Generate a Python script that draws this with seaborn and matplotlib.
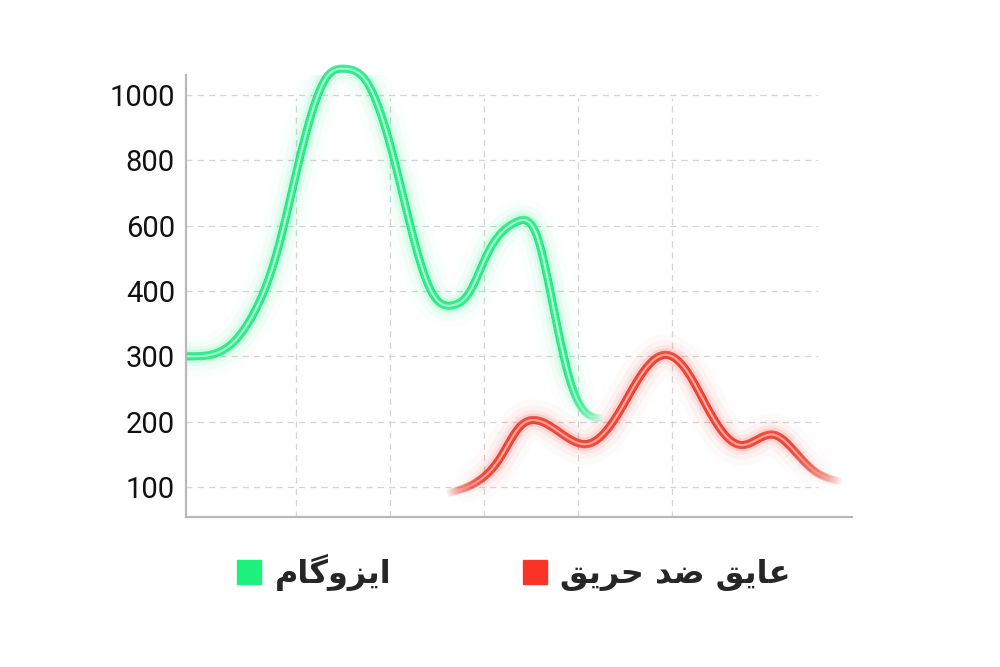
import numpy as np
import matplotlib
matplotlib.use("Agg")
import matplotlib.pyplot as plt
from matplotlib.collections import LineCollection
from matplotlib.lines import Line2D
from matplotlib.colors import to_rgba
import seaborn as sns

# y axis: evenly spaced ticks carrying uneven values
Y_TICKS = [100, 200, 300, 400, 600, 800, 1000]
X_TICKS = [1, 2, 3, 4, 5]

# (x in grid units, y in axis values)
green_x = [-0.16, 0.30, 0.58, 0.79, 1.04, 1.33, 1.51, 1.75, 2.04, 2.32,
           2.46, 2.67, 2.85, 3.03, 3.35, 3.56, 3.74, 3.93, 4.27]
green_y = [300, 317, 374, 510, 806, 1056, 1080, 1041, 806, 490,
           394, 378, 399, 510, 612, 571, 374, 256, 205]

red_x = [2.60, 2.96, 3.17, 3.38, 3.56, 3.83, 4.11, 4.41, 4.66, 4.91, 5.15,
         5.37, 5.58, 5.74, 6.08, 6.29, 6.50, 6.81]
red_y = [90, 111, 144, 192, 202, 181, 166, 208, 269, 302, 279,
         223, 177, 164, 180, 157, 126, 108]

series_names = ["ایزوگام", "عایق ضد حریق"]

IDX = np.arange(len(Y_TICKS), dtype=float)


def fwd(v):
    v = np.asarray(v, dtype=float)
    out = np.interp(v, Y_TICKS, IDX)
    out = np.where(v < Y_TICKS[0], (v - Y_TICKS[0]) / 100.0, out)
    out = np.where(v > Y_TICKS[-1], IDX[-1] + (v - Y_TICKS[-1]) / 200.0, out)
    return out


def inv(i):
    i = np.asarray(i, dtype=float)
    out = np.interp(i, IDX, Y_TICKS)
    out = np.where(i < 0, Y_TICKS[0] + i * 100.0, out)
    out = np.where(i > IDX[-1], Y_TICKS[-1] + (i - IDX[-1]) * 200.0, out)
    return out


def spline(x, y, xs, d0=None, dn=None):
    """cubic spline, natural ends unless an end slope is given"""
    x = np.asarray(x, float)
    y = np.asarray(y, float)
    n = len(x)
    h = np.diff(x)
    A = np.zeros((n, n))
    b = np.zeros(n)
    for i in range(1, n - 1):
        A[i, i - 1], A[i, i], A[i, i + 1] = h[i - 1], 2 * (h[i - 1] + h[i]), h[i]
        b[i] = 6 * ((y[i + 1] - y[i]) / h[i] - (y[i] - y[i - 1]) / h[i - 1])
    if d0 is None:
        A[0, 0] = 1
    else:
        A[0, 0], A[0, 1] = 2 * h[0], h[0]
        b[0] = 6 * ((y[1] - y[0]) / h[0] - d0)
    if dn is None:
        A[-1, -1] = 1
    else:
        A[-1, -2], A[-1, -1] = h[-1], 2 * h[-1]
        b[-1] = 6 * (dn - (y[-1] - y[-2]) / h[-1])
    M = np.linalg.solve(A, b)
    k = np.clip(np.searchsorted(x, xs) - 1, 0, n - 2)
    hk = h[k]
    a, c = x[k + 1] - xs, xs - x[k]
    return (M[k] * a**3 / (6 * hk) + M[k + 1] * c**3 / (6 * hk)
            + (y[k] / hk - M[k] * hk / 6) * a + (y[k + 1] / hk - M[k + 1] * hk / 6) * c)


# minimal Persian shaping (matplotlib has no bidi / joining)
FORMS = {
    'ا': ('\uFE8D', '\uFE8E', None, None),
    'ی': ('\uFBFC', '\uFBFD', '\uFBFE', '\uFBFF'),
    'ز': ('\uFEAF', '\uFEB0', None, None),
    'و': ('\uFEED', '\uFEEE', None, None),
    'گ': ('\uFB92', '\uFB93', '\uFB94', '\uFB95'),
    'م': ('\uFEE1', '\uFEE2', '\uFEE3', '\uFEE4'),
    'ع': ('\uFEC9', '\uFECA', '\uFECB', '\uFECC'),
    'ق': ('\uFED5', '\uFED6', '\uFED7', '\uFED8'),
    'ض': ('\uFEBD', '\uFEBE', '\uFEBF', '\uFEC0'),
    'د': ('\uFEA9', '\uFEAA', None, None),
    'ح': ('\uFEA1', '\uFEA2', '\uFEA3', '\uFEA4'),
    'ر': ('\uFEAD', '\uFEAE', None, None),
}


def shape(text):
    out = []
    for i, ch in enumerate(text):
        if ch not in FORMS:
            out.append(ch)
            continue
        prev = text[i - 1] if i > 0 else ''
        nxt = text[i + 1] if i + 1 < len(text) else ''
        jp = prev in FORMS and FORMS[prev][2] is not None
        jn = FORMS[ch][2] is not None and nxt in FORMS
        iso, fin, ini, med = FORMS[ch]
        out.append(med if (jp and jn) else fin if jp else ini if jn else iso)
    return ''.join(reversed(out))


def neon(ax, xk, yk, colors, fade_in, fade_out, d0=None):
    xs = np.linspace(xk[0], xk[-1], 800)
    ys = inv(spline(xk, fwd(yk), xs, d0=d0))
    edge, mid, core = colors
    a = np.ones(len(xs) - 1)
    xm = (xs[:-1] + xs[1:]) / 2
    if fade_in:
        a = np.minimum(a, (xm - xs[0]) / fade_in)
    if fade_out:
        a = np.minimum(a, (xs[-1] - xm) / fade_out)
    a = np.clip(a, 0, 1)

    # soft glow, drawn in runs of equal fade level
    lvl = np.round(a * 10) / 10
    breaks = np.flatnonzero(np.diff(lvl)) + 1
    starts = np.concatenate([[0], breaks])
    ends = np.concatenate([breaks, [len(lvl)]])
    for s, e in zip(starts, ends):
        if lvl[s] <= 0:
            continue
        for lw, al in [(30, 0.025), (21, 0.04), (14, 0.07), (9.5, 0.12)]:
            sns.lineplot(x=xs[s:e + 1], y=ys[s:e + 1], ax=ax, color=mid, lw=lw,
                         alpha=al * lvl[s] ** 2, sort=False, estimator=None,
                         solid_capstyle='butt', zorder=2)

    pts = np.column_stack([xs, ys]).reshape(-1, 1, 2)
    segs = np.concatenate([pts[:-1], pts[1:]], axis=1)
    for c, lw in [(edge, 5.8), (mid, 4.4), (core, 1.5)]:
        rgba = np.tile(to_rgba(c), (len(a), 1))
        rgba[:, 3] = a
        lc = LineCollection(segs, colors=rgba, linewidths=lw, capstyle='butt',
                            joinstyle='round', zorder=3)
        lc.set_clip_on(False)
        ax.add_collection(lc)


sns.set_theme(style="white")
plt.rcParams['font.family'] = ['Roboto', 'DejaVu Sans']

fig = plt.figure(figsize=(10, 6.67), dpi=100)
ax = fig.add_axes([0.186, 0.2249, 0.666, 0.6627])
ax.set_yscale('function', functions=(fwd, inv))
ax.set_xlim(-0.17, 6.915)
ax.set_ylim(54, 1061)

ax.hlines(Y_TICKS, -0.17, 6.55, colors='#d4d4d4', linestyles=(0, (5, 4)), lw=0.9, zorder=0)
ax.vlines(X_TICKS, 54, 990, colors='#d4d4d4', linestyles=(0, (5, 4)), lw=0.9, zorder=0)

GREEN = ('#12df77', '#2cf08a', '#c6ffe0')
RED = ('#d8261a', '#fb4334', '#ffc2b8')
neon(ax, green_x, green_y, GREEN, 0, 0.4, d0=0.0)
neon(ax, red_x, red_y, RED, 0.45, 0.6)

ax.set_yticks(Y_TICKS, labels=[str(t) for t in Y_TICKS])
ax.set_xticks([])
ax.tick_params(axis='y', length=0, pad=8, labelsize=21, labelcolor='#111111')
for s in ['top', 'right']:
    ax.spines[s].set_visible(False)
for s in ['left', 'bottom']:
    ax.spines[s].set_color('#b8b8b8')
    ax.spines[s].set_linewidth(1.6)

handles = [Line2D([], [], ls='', marker='s', markersize=17, color='#1ef07c'),
           Line2D([], [], ls='', marker='s', markersize=17, color='#fb3326')]
leg = fig.legend(handles, [shape(n) for n in series_names], ncol=2, frameon=False,
                 loc='center', bbox_to_anchor=(0.512, 0.142), columnspacing=4.0,
                 handletextpad=0.3, handlelength=1.0,
                 prop={'family': ['DejaVu Sans'], 'weight': 'bold', 'size': 23})

fig.savefig("out.png", dpi=100, facecolor='white')
